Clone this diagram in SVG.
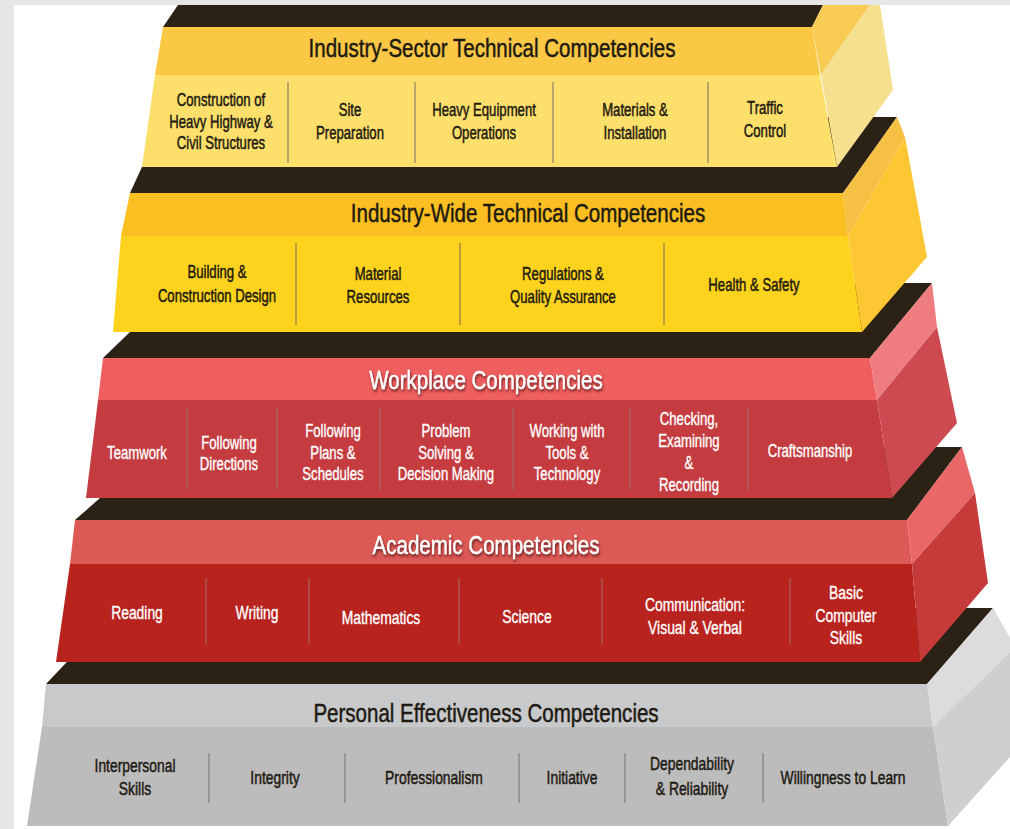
<svg xmlns="http://www.w3.org/2000/svg" width="1010" height="829" viewBox="0 0 1010 829">
<defs>
<filter id="sh" x="-10%" y="-30%" width="120%" height="160%">
<feDropShadow dx="1" dy="2" stdDeviation="1.5" flood-color="#3a0a0a" flood-opacity="0.8"/>
</filter>
<style>
.dk{fill:#2b2115}
.t{font-family:"Liberation Sans",Arial,sans-serif;font-size:26px;text-anchor:middle}
.i{font-family:"Liberation Sans",Arial,sans-serif;font-size:18px;text-anchor:middle}
.i17{font-family:"Liberation Sans",Arial,sans-serif;font-size:19px;text-anchor:middle}
.bk{fill:#1e1a12;stroke:#1e1a12;stroke-width:0.5}
.wh{fill:#ffffff;stroke:#ffffff;stroke-width:0.35}
.dv{stroke-width:1.2;fill:none}
</style>
</defs>
<rect x="0" y="0" width="1010" height="829" fill="#e6e6e6"/>
<rect x="14" y="5" width="996" height="824" fill="#ffffff"/>

<g id="tier-personal">
<polygon class="dk" points="118,608 993,608 927,684 46,684"/>
<polygon points="46,684 927,684 933,727 42,727" fill="#c8c9ca"/>
<polygon points="42,727 933,727 948,826 27,826" fill="#bcbcbc"/>
<polygon points="927,684 993,608 1010,638 1010,652 933,727" fill="#dcdcdc"/>
<polygon points="933,727 1010,652 1010,757 948,826" fill="#cfcfcf"/>
<g stroke="#808080" class="dv">
<line x1="209" y1="753" x2="209" y2="803"/><line x1="345" y1="753" x2="345" y2="803"/><line x1="519" y1="753" x2="519" y2="803"/><line x1="625" y1="753" x2="625" y2="803"/><line x1="763" y1="753" x2="763" y2="803"/>
</g>
<text class="t bk" transform="matrix(.79 0 0 1 486 0)" y="722">Personal Effectiveness Competencies</text>
<g class="i17 bk">
<text transform="matrix(.73 0 0 1 135 0)"><tspan x="0" y="772">Interpersonal</tspan><tspan x="0" y="795">Skills</tspan></text>
<text transform="matrix(.73 0 0 1 275 0)" y="784">Integrity</text>
<text transform="matrix(.73 0 0 1 434 0)" y="784">Professionalism</text>
<text transform="matrix(.73 0 0 1 572 0)" y="784">Initiative</text>
<text transform="matrix(.73 0 0 1 692 0)"><tspan x="0" y="770">Dependability</tspan><tspan x="0" y="795">&amp; Reliability</tspan></text>
<text transform="matrix(.73 0 0 1 843 0)" y="784">Willingness to Learn</text>
</g>
</g>

<g id="tier-academic">
<polygon class="dk" points="158,447 962,447 907,520 75,520"/>
<polygon points="75,520 907,520 912,564 70,564" fill="#dc5a56"/>
<polygon points="70,564 912,564 920,662 56,662" fill="#b8231e"/>
<polygon points="907,520 962,447 975,493 912,564" fill="#e96767"/>
<polygon points="912,564 975,493 988,583 920,662" fill="#c63a3a"/>
<g stroke="#a86060" class="dv">
<line x1="206" y1="578" x2="206" y2="645"/><line x1="309" y1="578" x2="309" y2="645"/><line x1="459" y1="578" x2="459" y2="645"/><line x1="602" y1="578" x2="602" y2="645"/><line x1="790" y1="578" x2="790" y2="645"/>
</g>
<text class="t wh" filter="url(#sh)" transform="matrix(.79 0 0 1 486 0)" y="554">Academic Competencies</text>
<g class="i17 wh">
<text transform="matrix(.73 0 0 1 137 0)" y="619">Reading</text>
<text transform="matrix(.73 0 0 1 257 0)" y="619">Writing</text>
<text transform="matrix(.73 0 0 1 381 0)" y="624">Mathematics</text>
<text transform="matrix(.73 0 0 1 527 0)" y="623">Science</text>
<text transform="matrix(.73 0 0 1 695 0)"><tspan x="0" y="611">Communication:</tspan><tspan x="0" y="634">Visual &amp; Verbal</tspan></text>
<text transform="matrix(.73 0 0 1 846 0)"><tspan x="0" y="599">Basic</tspan><tspan x="0" y="622">Computer</tspan><tspan x="0" y="644">Skills</tspan></text>
</g>
</g>

<g id="tier-workplace">
<polygon class="dk" points="181,283 932,283 870,358 103,358"/>
<polygon points="103,358 870,358 877,400 98,400" fill="#ef5f60"/>
<polygon points="98,400 877,400 892,498 86,498" fill="#c43c40"/>
<polygon points="870,358 932,283 937,327 877,400" fill="#ef7d80"/>
<polygon points="877,400 937,327 957,423 892,498" fill="#cd4b50"/>
<g stroke="#a06868" class="dv">
<line x1="187" y1="407" x2="187" y2="490"/><line x1="277" y1="407" x2="277" y2="490"/><line x1="380" y1="407" x2="380" y2="490"/><line x1="513" y1="407" x2="513" y2="490"/><line x1="630" y1="407" x2="630" y2="490"/><line x1="748" y1="407" x2="748" y2="490"/>
</g>
<text class="t wh" filter="url(#sh)" transform="matrix(.79 0 0 1 486 0)" y="389">Workplace Competencies</text>
<g class="i wh">
<text transform="matrix(.73 0 0 1 137 0)" y="459">Teamwork</text>
<text transform="matrix(.73 0 0 1 229 0)"><tspan x="0" y="449">Following</tspan><tspan x="0" y="470">Directions</tspan></text>
<text transform="matrix(.73 0 0 1 333 0)"><tspan x="0" y="437">Following</tspan><tspan x="0" y="459">Plans &amp;</tspan><tspan x="0" y="480">Schedules</tspan></text>
<text transform="matrix(.73 0 0 1 446 0)"><tspan x="0" y="437">Problem</tspan><tspan x="0" y="459">Solving &amp;</tspan><tspan x="0" y="480">Decision Making</tspan></text>
<text transform="matrix(.73 0 0 1 567 0)"><tspan x="0" y="437">Working with</tspan><tspan x="0" y="459">Tools &amp;</tspan><tspan x="0" y="480">Technology</tspan></text>
<text transform="matrix(.73 0 0 1 689 0)"><tspan x="0" y="425">Checking,</tspan><tspan x="0" y="447">Examining</tspan><tspan x="0" y="469">&amp;</tspan><tspan x="0" y="491">Recording</tspan></text>
<text transform="matrix(.73 0 0 1 810 0)" y="457">Craftsmanship</text>
</g>
</g>

<g id="tier-industry-wide">
<polygon class="dk" points="165,117 897,117 843,193 130,193"/>
<polygon points="130,193 843,193 848,236 121,236" fill="#fbbf22"/>
<polygon points="121,236 848,236 862,332 113,332" fill="#fed31d"/>
<polygon points="843,193 897,117 905,137 848,236" fill="#f5c043"/>
<polygon points="848,236 905,137 927,257 862,332" fill="#fcc733"/>
<g stroke="#8a7a4a" class="dv">
<line x1="296" y1="243" x2="296" y2="325"/><line x1="460" y1="243" x2="460" y2="325"/><line x1="664" y1="243" x2="664" y2="325"/>
</g>
<text class="t bk" transform="matrix(.79 0 0 1 528 0)" y="222">Industry-Wide Technical Competencies</text>
<g class="i bk">
<text transform="matrix(.73 0 0 1 217 0)"><tspan x="0" y="278">Building &amp;</tspan><tspan x="0" y="302">Construction Design</tspan></text>
<text transform="matrix(.73 0 0 1 378 0)"><tspan x="0" y="280">Material</tspan><tspan x="0" y="303">Resources</tspan></text>
<text transform="matrix(.73 0 0 1 563 0)"><tspan x="0" y="280">Regulations &amp;</tspan><tspan x="0" y="303">Quality Assurance</tspan></text>
<text transform="matrix(.73 0 0 1 754 0)" y="291">Health &amp; Safety</text>
</g>
</g>

<g id="tier-industry-sector">
<polygon class="dk" points="178,5 823,5 812,27 163,27"/>
<polygon points="163,27 812,27 820,75 155,75" fill="#fbc845"/>
<polygon points="155,75 820,75 837,167 142,167" fill="#fde06b"/>
<polygon points="812,27 823,5 870,5 821,75" fill="#f8cb55"/>
<polygon points="821,75 870,5 880,5 893,90 837,167" fill="#f4e08f"/>
<g stroke="#8a7f60" class="dv">
<line x1="288" y1="82" x2="288" y2="163"/><line x1="415" y1="82" x2="415" y2="163"/><line x1="553" y1="82" x2="553" y2="163"/><line x1="708" y1="82" x2="708" y2="163"/>
</g>
<text class="t bk" transform="matrix(.79 0 0 1 492 0)" y="57">Industry-Sector Technical Competencies</text>
<g class="i bk">
<text transform="matrix(.73 0 0 1 221 0)"><tspan x="0" y="106">Construction of</tspan><tspan x="0" y="128">Heavy Highway &amp;</tspan><tspan x="0" y="149">Civil Structures</tspan></text>
<text transform="matrix(.73 0 0 1 350 0)"><tspan x="0" y="116">Site</tspan><tspan x="0" y="139">Preparation</tspan></text>
<text transform="matrix(.73 0 0 1 484 0)"><tspan x="0" y="116">Heavy Equipment</tspan><tspan x="0" y="139">Operations</tspan></text>
<text transform="matrix(.73 0 0 1 635 0)"><tspan x="0" y="116">Materials &amp;</tspan><tspan x="0" y="139">Installation</tspan></text>
<text transform="matrix(.73 0 0 1 765 0)"><tspan x="0" y="114">Traffic</tspan><tspan x="0" y="137">Control</tspan></text>
</g>
</g>
</svg>
